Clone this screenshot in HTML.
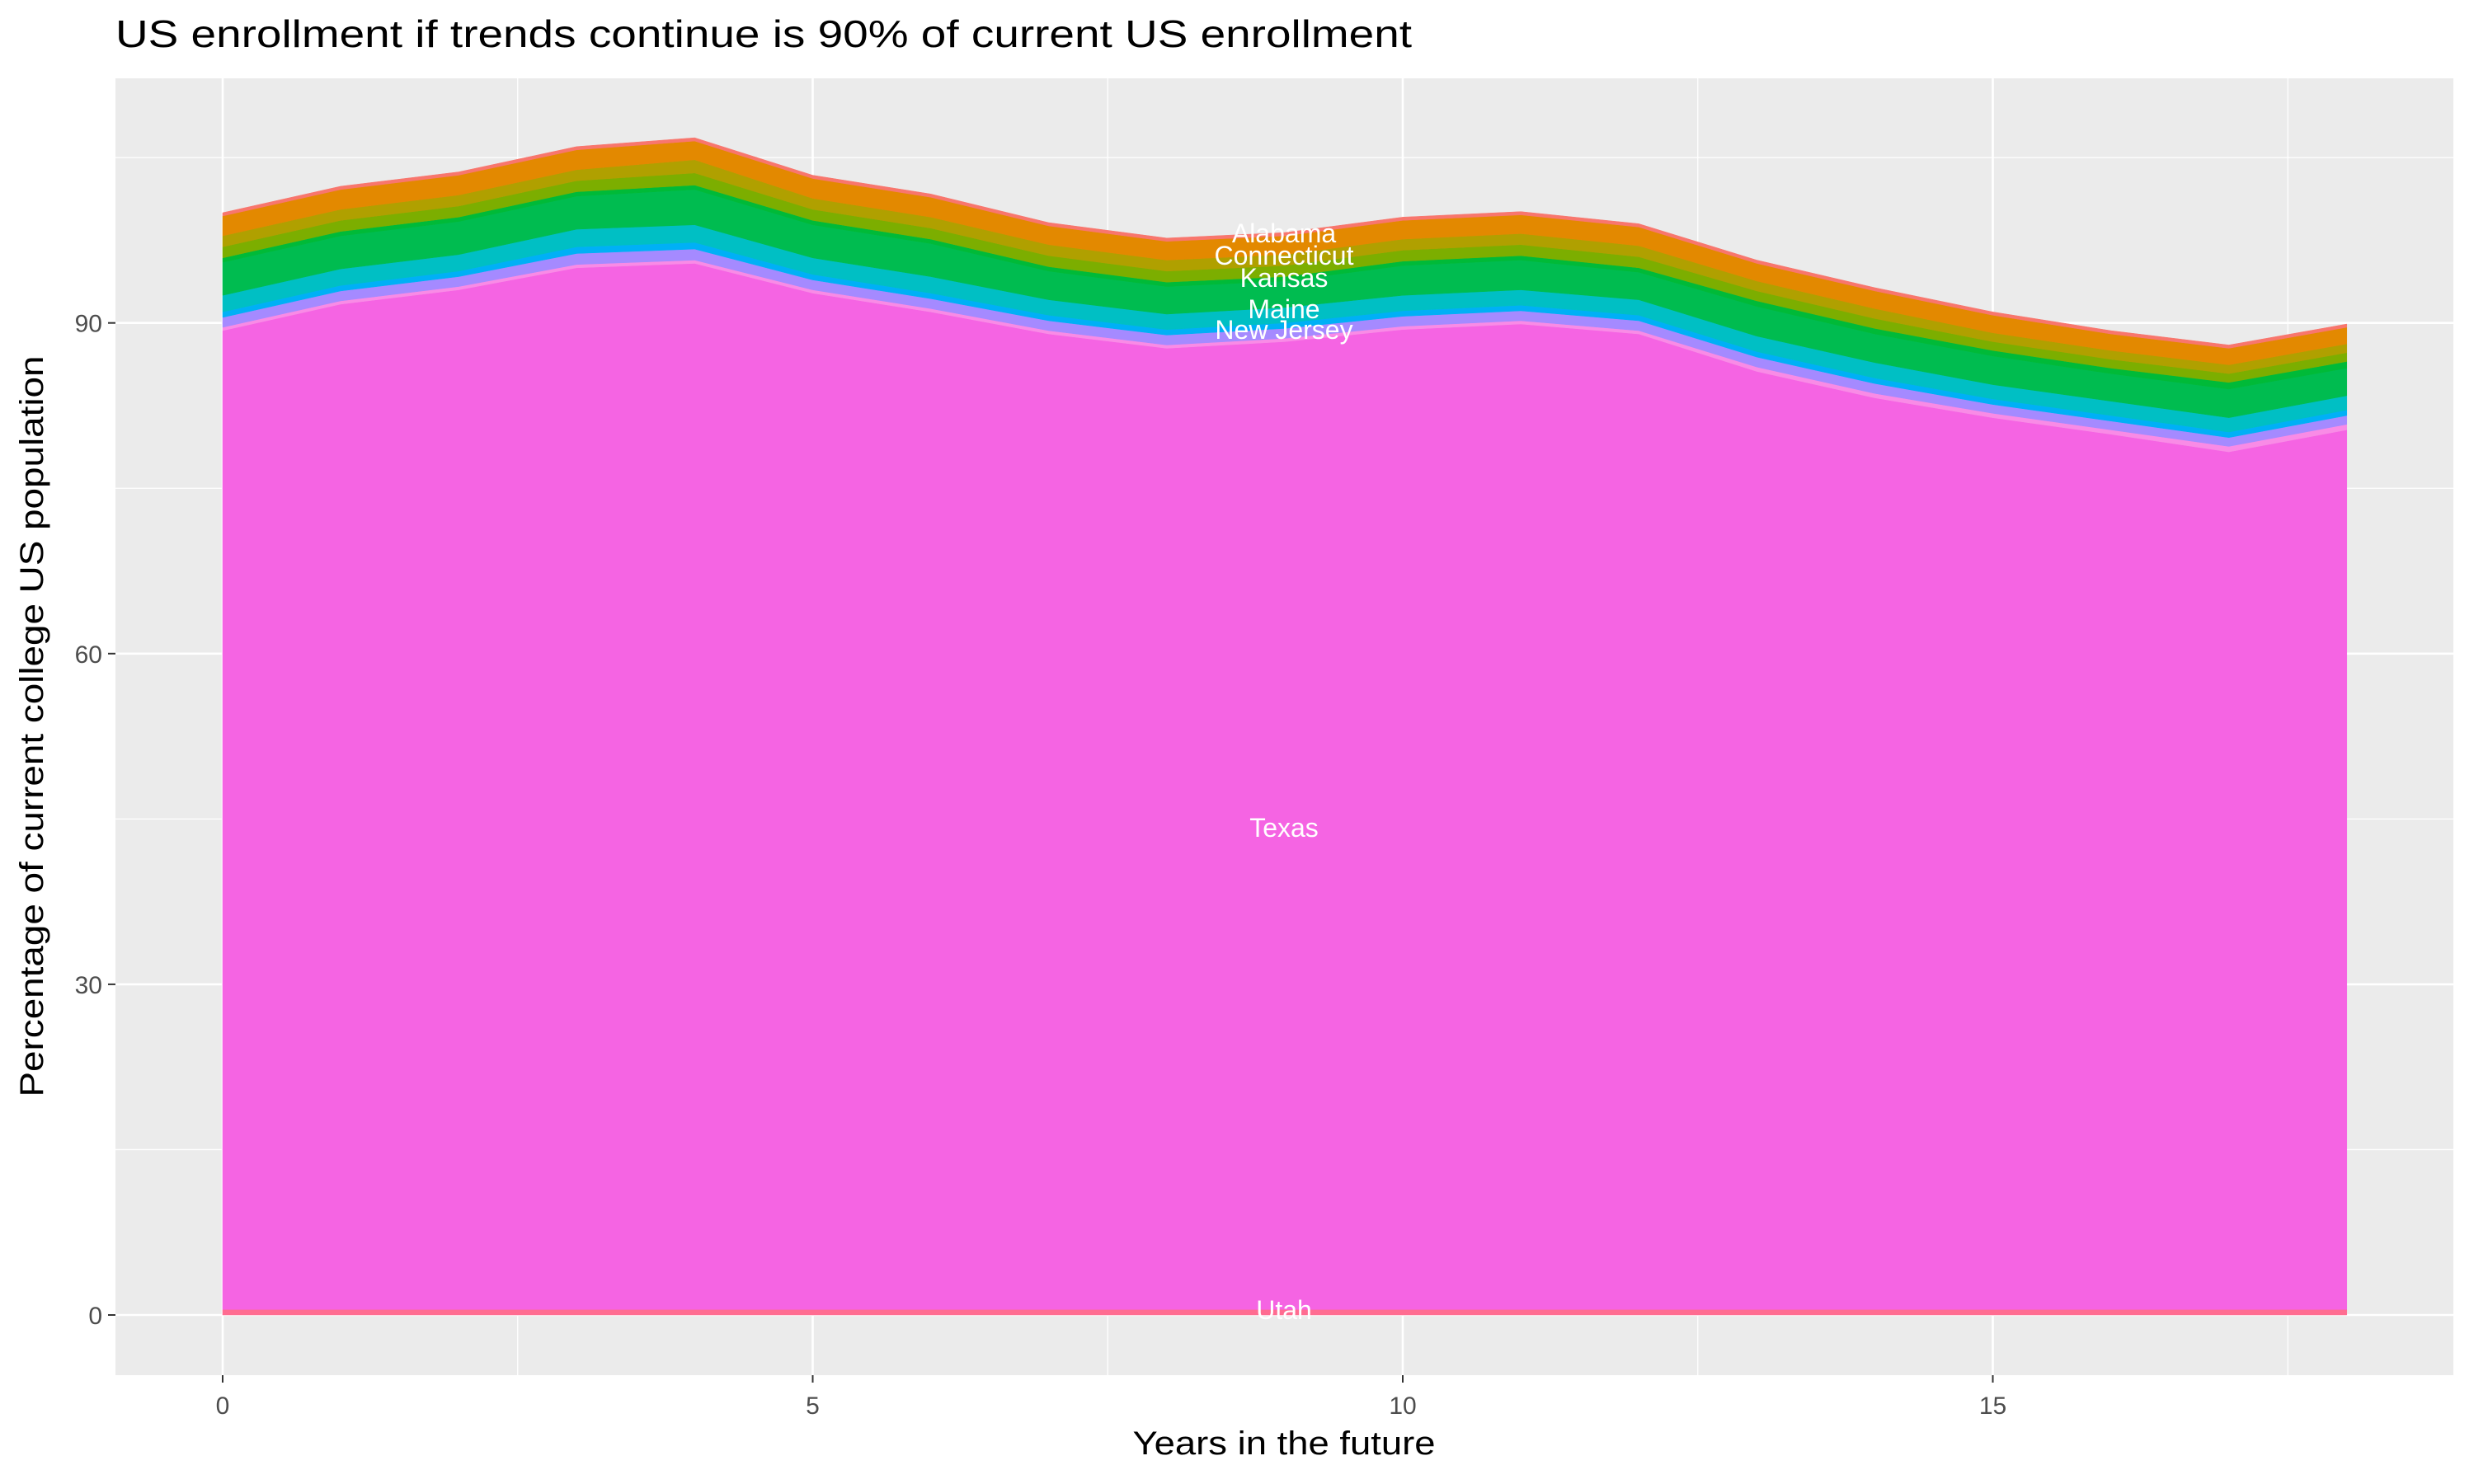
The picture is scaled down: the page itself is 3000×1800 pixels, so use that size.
<!DOCTYPE html>
<html><head><meta charset="utf-8"><style>
html,body{margin:0;padding:0;background:#fff;}
svg{display:block;font-family:"Liberation Sans",Arial,sans-serif;}
</style></head><body>
<svg id="chart" width="3000" height="1800" viewBox="0 0 3000 1800" xmlns="http://www.w3.org/2000/svg">
<rect x="0" y="0" width="3000" height="1800" fill="#ffffff"/>
<text x="140" y="57" font-size="46" fill="#000" textLength="1572" lengthAdjust="spacingAndGlyphs">US enrollment if trends continue is 90% of current US enrollment</text>
<rect x="140" y="95" width="2835" height="1573" fill="#EBEBEB"/>
<g id="grid"></g>
<g id="areas"></g>
<g id="labels"></g>
<g id="axes"></g>
<text x="1557" y="1764" font-size="40" text-anchor="middle" fill="#000" textLength="367" lengthAdjust="spacingAndGlyphs">Years in the future</text>
<text transform="translate(52,881) rotate(-90)" font-size="40" text-anchor="middle" fill="#000" textLength="899" lengthAdjust="spacingAndGlyphs">Percentage of current college US population</text>
</svg>
<script>
const years = [0,1,2,3,4,5,6,7,8,9,10,11,12,13,14,15,16,17,18];
const utah = [0.5,0.5,0.5,0.5,0.5,0.5,0.5,0.5,0.5,0.5,0.5,0.5,0.5,0.5,0.5,0.5,0.5,0.5,0.5];
const texas = [88.8,91.2,92.5,94.5,94.9,92.2,90.5,88.5,87.2,87.8,88.9,89.4,88.5,85.1,82.7,80.9,79.4,77.8,79.8];
const newJersey = [0.3,0.3,0.3,0.3,0.3,0.3,0.3,0.3,0.3,0.3,0.3,0.3,0.3,0.4,0.4,0.4,0.4,0.5,0.5];
const purple = [0.9,0.9,0.9,1.0,1.0,0.9,0.9,0.9,0.9,0.9,0.9,0.9,0.9,0.9,0.9,0.8,0.8,0.8,0.8];
const blue = [0.5,0.5,0.5,0.6,0.6,0.5,0.5,0.5,0.5,0.5,0.5,0.5,0.5,0.5,0.5,0.5,0.5,0.5,0.5];
const maine = [1.5,1.5,1.5,1.6,1.6,1.5,1.5,1.4,1.4,1.4,1.4,1.4,1.4,1.4,1.4,1.3,1.3,1.3,1.3];
const green = [3.0,3.0,3.0,3.0,3.2,3.0,3.0,2.6,2.5,2.4,2.7,2.7,2.5,2.7,2.6,2.6,2.5,2.6,2.5];
const kansas = [0.4,0.4,0.4,0.4,0.4,0.4,0.4,0.4,0.4,0.4,0.4,0.4,0.4,0.5,0.5,0.5,0.5,0.6,0.6];
const oliveGreen = [1.0,1.0,1.0,1.0,1.1,1.0,1.0,1.0,1.0,1.0,1.0,1.0,1.0,0.9,0.9,0.8,0.8,0.8,0.8];
const connecticut = [1.0,1.0,1.0,1.0,1.2,1.0,1.0,1.0,1.0,1.0,1.0,1.0,1.0,0.9,0.9,0.8,0.8,0.8,0.8];
const orange = [1.8,1.8,1.8,1.8,1.7,1.8,1.8,1.7,1.7,1.7,1.7,1.7,1.7,1.6,1.6,1.6,1.5,1.5,1.5];
const alabama = [0.3,0.3,0.3,0.3,0.3,0.3,0.3,0.3,0.3,0.3,0.3,0.3,0.3,0.3,0.3,0.3,0.3,0.3,0.3];
const xTicks = [0,5,10,15];
const xTickLabels = ["0","5","10","15"];
const yTicks = [0,30,60,90];
const yTickLabels = ["0","30","60","90"];

const NS = "http://www.w3.org/2000/svg";
const X0 = 270, XU = 143.1, Y0 = 1595, YU = 13.37;
function sx(v){return X0 + v*XU;}
function sy(v){return Y0 - v*YU;}
function mk(tag, attrs, parent){const e=document.createElementNS(NS,tag);for(const k in attrs)e.setAttribute(k,attrs[k]);parent.appendChild(e);return e;}

const grid = document.getElementById('grid');
[15,45,75,105].forEach(v=>{
  const l = mk('line',{x1:140,x2:2975,y1:sy(v),y2:sy(v),stroke:'#fff','stroke-width':1.3},grid);
  
  
});
[2.5,7.5,12.5,17.5].forEach(v=>{
  const l = mk('line',{x1:sx(v),x2:sx(v),y1:95,y2:1668,stroke:'#fff','stroke-width':1.3},grid);
  
  
});
yTicks.forEach(v=>{
  const l = mk('line',{x1:140,x2:2975,y1:sy(v),y2:sy(v),stroke:'#fff','stroke-width':2.6},grid);
  
  
});
xTicks.forEach(v=>{
  const l = mk('line',{x1:sx(v),x2:sx(v),y1:95,y2:1668,stroke:'#fff','stroke-width':2.6},grid);
  
  
});

const layers = [
  {n:'utah',d:utah,c:'#FF6C91'},
  {n:'texas',d:texas,c:'#F564E3'},
  {n:'new-jersey',d:newJersey,c:'#F98BE6'},
  {n:'purple-state',d:purple,c:'#A58AFF'},
  {n:'blue-state',d:blue,c:'#00B0F6'},
  {n:'maine',d:maine,c:'#00BFC4'},
  {n:'green-state',d:green,c:'#00BC50'},
  {n:'kansas',d:kansas,c:'#00BA38'},
  {n:'olive-green-state',d:oliveGreen,c:'#7CAE00'},
  {n:'connecticut',d:connecticut,c:'#B0A000'},
  {n:'orange-state',d:orange,c:'#E38900'},
  {n:'alabama',d:alabama,c:'#F8766D'}
];
const areas = document.getElementById('areas');
let base = years.map(()=>0);
layers.forEach(L=>{
  const top = base.map((b,i)=>b+L.d[i]);
  let d = 'M'+years.map((y,i)=>sx(y)+','+sy(top[i])).join('L');
  for(let i=years.length-1;i>=0;i--) d += 'L'+sx(years[i])+','+sy(base[i]);
  d += 'Z';
  const p = mk('path',{d:d,fill:L.c,stroke:L.c,'stroke-width':0.5},areas);
  
  
  base = top;
});

const labels = document.getElementById('labels');
const labelDefs = [["Alabama",283],["Connecticut",310],["Kansas",337],["Maine",375],["New Jersey",400],["Texas",1004],["Utah",1589]];
labelDefs.forEach(([t,y])=>{
  const e = mk('text',{x:1557,y:y+11,'font-size':32,'text-anchor':'middle',fill:'#fff'},labels);
  e.textContent = t;
  
  
});

const axes = document.getElementById('axes');
xTicks.forEach((v,i)=>{
  const t = mk('line',{x1:sx(v),x2:sx(v),y1:1668,y2:1677,stroke:'#333','stroke-width':2},axes);
  
  
  const l = mk('text',{x:sx(v),y:1715,'font-size':30,'text-anchor':'middle',fill:'#4D4D4D'},axes);
  l.textContent = xTickLabels[i];
  
  
});
yTicks.forEach((v,i)=>{
  const t = mk('line',{x1:131,x2:140,y1:sy(v),y2:sy(v),stroke:'#333','stroke-width':2},axes);
  
  
  const l = mk('text',{x:124,y:sy(v)+11,'font-size':30,'text-anchor':'end',fill:'#4D4D4D'},axes);
  l.textContent = yTickLabels[i];
  
  
});
</script>
</body></html>
